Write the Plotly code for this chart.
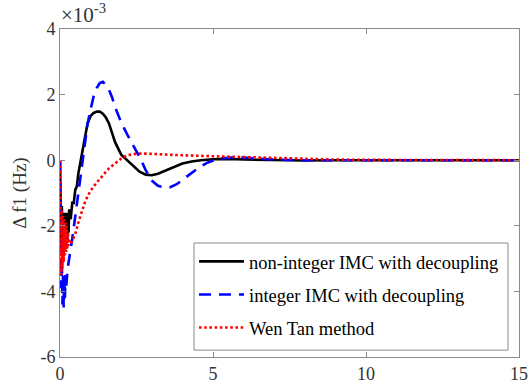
import plotly.graph_objects as go

# Time (s) and frequency deviation (x1e-3 Hz)
t_nonint = [0, 0.02, 0.04, 0.06, 0.08, 0.10, 0.12, 0.14, 0.16, 0.18, 0.20, 0.22, 0.24, 0.26, 0.28, 0.30,
            0.35, 0.4, 0.45, 0.5, 0.55, 0.6, 0.7, 0.8, 0.9, 1.0, 1.1, 1.2, 1.3, 1.4, 1.5, 1.6, 1.8, 2.0, 2.2,
            2.4, 2.6, 2.8, 3.0, 3.2, 3.4, 3.6, 3.8, 4.0, 4.3, 4.6, 5.0, 5.5, 6, 7, 8, 9, 10, 12, 15]
y_nonint = [0, -1.5, -2.6, -1.4, -2.9, -1.6, -2.9, -1.7, -2.8, -1.6, -2.6, -1.7, -2.4, -1.6, -2.2, -1.5,
            -1.8, -1.3, -1.3, -0.9, -0.8, -0.4, 0.1, 0.72, 1.12, 1.35, 1.44, 1.48, 1.48, 1.42, 1.3, 1.12, 0.55, 0.17, 0.0,
            -0.2, -0.35, -0.44, -0.46, -0.41, -0.33, -0.25, -0.17, -0.1, -0.04, 0.0, 0.03, 0.04, 0.02, 0.0, -0.01, 0, 0, 0, 0]

t_int = [0, 0.02, 0.04, 0.06, 0.08, 0.10, 0.12, 0.14, 0.16, 0.18, 0.2, 0.25, 0.3, 0.35, 0.4, 0.5, 0.6, 0.7,
         0.8, 0.9, 1.0, 1.1, 1.2, 1.3, 1.4, 1.5, 1.6, 1.7, 1.8, 2.0, 2.2, 2.4, 2.6, 2.8, 3.0, 3.2, 3.4, 3.6,
         3.8, 4.0, 4.2, 4.5, 4.8, 5.2, 5.6, 6.0, 6.5, 7, 8, 10, 15]
y_int = [0, -2.5, -3.9, -3.0, -4.4, -3.4, -4.5, -3.6, -4.2, -3.5, -3.9, -3.3, -3.0, -2.8, -2.4, -1.7, -1.0, -0.2,
         0.5, 1.1, 1.55, 1.95, 2.2, 2.35, 2.39, 2.3, 2.15, 1.92, 1.62, 1.15, 0.78, 0.45, 0.1, -0.3, -0.62, -0.78, -0.83, -0.82,
         -0.74, -0.6, -0.45, -0.25, -0.08, 0.05, 0.08, 0.08, 0.05, 0.02, 0.0, 0, 0]

t_wen = [0, 0.02, 0.04, 0.06, 0.08, 0.10, 0.12, 0.14, 0.16, 0.18, 0.20, 0.22, 0.24, 0.26, 0.28, 0.3, 0.35, 0.4,
         0.5, 0.6, 0.7, 0.8, 0.9, 1.0, 1.2, 1.4, 1.6, 1.8, 2.0, 2.2, 2.5, 2.8, 3.0, 3.5, 4, 5, 6, 7, 8, 9, 10, 12, 15]
y_wen = [0, -1.3, -3.5, -1.5, -3.3, -1.7, -3.1, -1.8, -2.9, -1.9, -2.8, -2.0, -2.7, -2.2, -2.6, -2.45, -2.55, -2.45,
         -2.25, -1.9, -1.6, -1.32, -1.1, -0.93, -0.68, -0.45, -0.25, -0.1, 0.05, 0.15, 0.2, 0.2, 0.19, 0.17, 0.15, 0.12,
         0.09, 0.06, 0.04, 0.02, 0.01, 0, 0]

names = ["non-integer IMC with decoupling", "integer IMC with decoupling", "Wen Tan method"]

x_ticks = [0, 5, 10, 15]
y_ticks = [-6, -4, -2, 0, 2, 4]

SERIF = "'Liberation Serif', 'Times New Roman', 'DejaVu Serif', serif"

fig = go.Figure()
fig.add_trace(go.Scatter(x=t_nonint, y=y_nonint, mode="lines", name=names[0], legendgroup="a",
                         line=dict(color="black", width=2.6)))
fig.add_trace(go.Scatter(x=t_int, y=y_int, mode="lines", name=names[1], legendgroup="b",
                         line=dict(color="#0000ff", width=2.6, dash="12px,8px")))
fig.add_trace(go.Scatter(x=t_wen, y=y_wen, mode="lines", name=names[2], legendgroup="c",
                         line=dict(color="#ff0000", width=2.6, dash="2.6px,2.6px")))

axis_common = dict(showgrid=False, zeroline=False, showline=True, linecolor="#8a8a8a", linewidth=1,
                   mirror="ticks", ticks="inside", ticklen=5, tickcolor="#8a8a8a", automargin=False,
                   tickfont=dict(family=SERIF, size=18, color="#333333"))

fig.update_xaxes(range=[0, 15], tickvals=x_ticks, **axis_common)
fig.update_yaxes(range=[-6, 4], tickvals=y_ticks, ticktext=[str(v) for v in y_ticks],
                 title=dict(text="Δ f1 (Hz)", font=dict(family=SERIF, size=19, color="#333333"),
                            standoff=8),
                 **axis_common)

fig.add_annotation(text="×10<sup>-3</sup>", xref="paper", yref="paper", x=-0.002, y=1.0,
                   xanchor="left", yanchor="bottom", showarrow=False,
                   font=dict(family=SERIF, size=21, color="#333333"))

# legend frame
fig.add_shape(type="rect", xref="paper", yref="paper", x0=0.292, x1=0.976, y0=0.021, y1=0.3476,
              line=dict(color="#8a8a8a", width=1), fillcolor="white", layer="below")

fig.update_layout(
    width=531, height=390,
    margin=dict(l=60, r=12, t=29, b=33),
    font=dict(family=SERIF),
    plot_bgcolor="white", paper_bgcolor="white",
    showlegend=True,
    legend=dict(x=0.292, y=0.348, xanchor="left", yanchor="top",
                bgcolor="rgba(0,0,0,0)", borderwidth=0,
                font=dict(family=SERIF, size=18.5, color="black"),
                itemwidth=45, tracegroupgap=6),
)

fig.write_html("out.html")
